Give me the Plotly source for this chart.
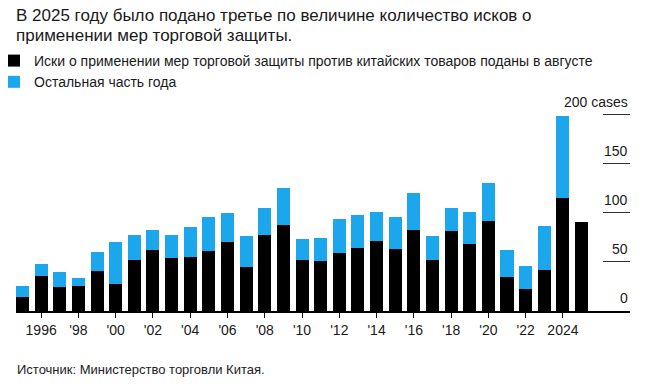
import plotly.graph_objects as go

years = list(range(1995, 2026))
august = [14, 36, 24, 25, 41, 28, 52, 62, 54, 55, 61, 70, 45, 78, 88, 52, 51,
          59, 64, 71, 63, 83, 52, 82, 68, 92, 35, 22, 42, 115, 91]
rest_total = [26, 48, 40, 34, 60, 70, 78, 83, 78, 86, 96, 100, 77, 105, 125, 73, 74,
              94, 98, 101, 96, 120, 77, 105, 101, 131, 62, 46, 87, 199, None]
rest = [(t - a) if t is not None else None for t, a in zip(rest_total, august)]

x_tickvals = list(range(1996, 2025, 2))
x_ticktext = ["1996", "'98", "'00", "'02", "'04", "'06", "'08", "'10", "'12", "'14",
              "'16", "'18", "'20", "'22", "2024"]
y_tickvals = [0, 50, 100, 150, 200]
y_ticktext = ["0", "50", "100", "150", "200 cases"]

title_lines = ["В 2025 году было подано третье по величине количество исков о",
               "применении мер торговой защиты."]
name_black = "Иски о применении мер торговой защиты против китайских товаров поданы в августе"
name_blue = "Остальная часть года"
source = "Источник: Министерство торговли Китая."

FONT = "Liberation Sans, Arial, Helvetica, sans-serif"
BLUE = "#1CA7EC"
TXT = "#1a1a1a"

W, H = 651, 392
ML, MR, MT, MB = 16, 21, 110, 81
PH = H - MT - MB  # plot height in px
PW = W - ML - MR


def py(pix):  # pixel row from top -> paper y
    return (H - MB - pix) / PH


def px(pix):  # pixel column from left -> paper x
    return (pix - ML) / PW


fig = go.Figure()
fig.add_trace(go.Bar(x=years, y=august, name=name_black, marker_color="#000000",
                     marker_line_width=0))
fig.add_trace(go.Bar(x=years, y=rest, name=name_blue, marker_color=BLUE,
                     marker_line_width=0))

for v, t in zip(y_tickvals, y_ticktext):
    fig.add_annotation(x=1, xref="paper", y=v, yref="y", text=t, showarrow=False,
                       xanchor="right", yanchor="bottom", yshift=3,
                       font=dict(family=FONT, size=14, color=TXT))

for line, ycen in zip(title_lines, [15, 36]):
    fig.add_annotation(text=line, showarrow=False, xref="paper", yref="paper",
                       x=px(14), y=py(ycen), xanchor="left", yanchor="middle",
                       align="left", font=dict(family=FONT, size=17, color=TXT))
fig.add_annotation(text=source, showarrow=False, xref="paper", yref="paper",
                   x=px(15), y=py(369), xanchor="left", yanchor="middle",
                   font=dict(family=FONT, size=13, color="#222222"))

fig.update_layout(
    width=W, height=H,
    margin=dict(l=ML, r=MR, t=MT, b=MB, autoexpand=False),
    paper_bgcolor="white", plot_bgcolor="white",
    barmode="stack", bargap=0.30,
    font=dict(family=FONT, size=14, color=TXT),
    legend=dict(x=px(-6), y=py(45), xanchor="left", yanchor="top",
                traceorder="normal",
                font=dict(family=FONT, size=14, color=TXT),
                bgcolor="rgba(0,0,0,0)", tracegroupgap=0),
    xaxis=dict(range=[1994.65, 2027.6], tickvals=x_tickvals, ticktext=x_ticktext,
               showgrid=False, zeroline=False, showline=True, linecolor="#000000",
               linewidth=2, ticks="outside", ticklen=5, tickcolor="#000000",
               tickwidth=1, tickfont=dict(family=FONT, size=14, color=TXT)),
    yaxis=dict(range=[0, 205], side="right", tickvals=y_tickvals,
               showticklabels=False, showgrid=False, zeroline=False,
               ticks="inside", ticklen=27, tickcolor="#333333", tickwidth=1),
    showlegend=True,
)

fig.write_html("out.html", config={"displayModeBar": False},
               post_script="document.body.style.margin='0';")
